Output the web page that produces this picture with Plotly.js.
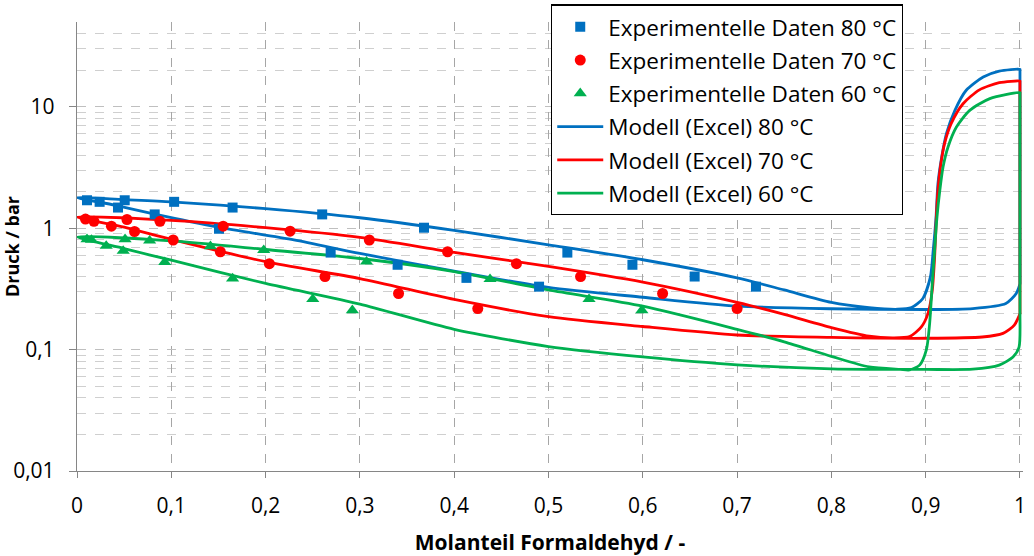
<!DOCTYPE html>
<html>
<head>
<meta charset="utf-8">
<script src="https://cdn.plot.ly/plotly-3.0.1.min.js"></script>
<style>html,body{margin:0;padding:0;background:#fff;}#chart{width:1034px;height:556px;}</style>
</head>
<body>
<div id="chart"></div>
<script>
// Experimental data (x = Molanteil Formaldehyd, p = Druck / bar)
const exp80_x = [0.0106,0.024,0.0435,0.0506,0.0824,0.103,0.1506,0.165,0.26,0.269,0.34,0.368,0.413,0.49,0.52,0.589,0.655,0.72];
const exp80_p = [1.70,1.65,1.48,1.70,1.30,1.65,0.99,1.48,1.30,0.63,0.50,1.01,0.39,0.33,0.63,0.50,0.40,0.33];

const exp70_x = [0.009,0.018,0.0365,0.053,0.061,0.088,0.102,0.152,0.155,0.204,0.226,0.263,0.310,0.341,0.393,0.425,0.466,0.534,0.621,0.700];
const exp70_p = [1.19,1.14,1.04,1.18,0.94,1.14,0.80,0.64,1.04,0.51,0.945,0.40,0.80,0.29,0.64,0.218,0.51,0.40,0.29,0.218];

const exp60_x = [0.0106,0.0153,0.031,0.049,0.051,0.077,0.093,0.1415,0.165,0.198,0.250,0.292,0.307,0.438,0.543,0.599];
const exp60_p = [0.81,0.80,0.715,0.65,0.81,0.79,0.525,0.71,0.385,0.66,0.26,0.211,0.53,0.38,0.26,0.211];

// Model curves (closed loops: upper branch, steep rise, x=1 edge, lower branch back)
const mod80_x = [0,0.05,0.1,0.2,0.3,0.4,0.5,0.6,0.7,0.75,0.8,0.84,0.87,0.885,0.897,0.905,0.908,0.911,0.913,0.917,0.922,0.931,0.943,0.961,0.978,1.0,1.0,1.0,1.0,0.996,0.985,0.95,0.9,0.8,0.7,0.6,0.5,0.4,0.3,0.23,0.15,0.08,0.04,0];
const mod80_p = [1.79,1.72,1.65,1.45,1.22,0.96,0.73,0.55,0.39,0.31,0.245,0.222,0.215,0.222,0.264,0.397,0.659,1.24,2.33,3.86,6.02,9.36,13.7,17.6,19.7,20.4,20.2,0.36,0.35,0.29,0.24,0.218,0.214,0.217,0.228,0.27,0.325,0.444,0.62,0.80,1.02,1.32,1.55,1.79];

const mod70_x = [0,0.1,0.2,0.3,0.4,0.5,0.6,0.7,0.75,0.8,0.84,0.865,0.883,0.8954,0.9025,0.907,0.9095,0.9113,0.913,0.9156,0.92,0.927,0.9396,0.957,0.978,1.0,1.0,1.0,1.0,0.994,0.982,0.96,0.9,0.8,0.7,0.6,0.5,0.4,0.3,0.2,0.1,0.05,0];
const mod70_p = [1.24,1.16,1.01,0.84,0.632,0.485,0.36,0.245,0.195,0.152,0.129,0.125,0.128,0.154,0.199,0.309,0.58,1.24,2.05,3.19,4.98,7.27,10.6,13.8,15.8,16.3,16.1,0.205,0.199,0.159,0.136,0.127,0.124,0.126,0.132,0.155,0.187,0.259,0.385,0.53,0.81,1.02,1.24];

const mod60_x = [0,0.1,0.2,0.3,0.4,0.5,0.6,0.7,0.75,0.8,0.84,0.873,0.883,0.8936,0.9007,0.9042,0.907,0.9095,0.912,0.915,0.9184,0.9237,0.9326,0.9467,0.968,1.0,1.0,1.0,1.0,0.999,0.9926,0.978,0.95,0.9,0.8,0.7,0.6,0.5,0.4,0.3,0.2,0.1,0.05,0];
const mod60_p = [0.85,0.786,0.668,0.563,0.44,0.31,0.228,0.147,0.116,0.088,0.072,0.0687,0.068,0.0745,0.0993,0.164,0.351,0.659,1.24,2.05,3.19,4.67,6.82,9.36,11.7,13.1,12.9,0.19,0.186,0.105,0.087,0.0745,0.069,0.0687,0.0695,0.075,0.087,0.106,0.147,0.237,0.351,0.545,0.68,0.85];

const xTicks = [0,0.1,0.2,0.3,0.4,0.5,0.6,0.7,0.8,0.9,1];
const xTickText = ['0','0,1','0,2','0,3','0,4','0,5','0,6','0,7','0,8','0,9','1'];
const yTicks = [0.01,0.1,1,10];
const yTickText = ['0,01','0,1','1','10'];

const BLUE = '#0070C0', RED = '#FF0000', GREEN = '#00B050';
const FONT = '"Open Sans", "Noto Sans", sans-serif';

function lineTrace(x, y, name, color, rank) {
  return {x: x, y: y, name: name, type: 'scatter', mode: 'lines',
    line: {color: color, width: 2.8, shape: 'spline', smoothing: 0.7},
    legendrank: rank, legendgroup: 'g' + rank};
}
function markerTrace(x, y, name, color, symbol, size, rank) {
  return {x: x, y: y, name: name, type: 'scatter', mode: 'markers',
    marker: {color: color, symbol: symbol, size: size},
    legendrank: rank, legendgroup: 'g' + rank};
}

const data = [
  lineTrace(mod80_x, mod80_p, 'Modell (Excel) 80 °C', BLUE, 4),
  lineTrace(mod70_x, mod70_p, 'Modell (Excel) 70 °C', RED, 5),
  lineTrace(mod60_x, mod60_p, 'Modell (Excel) 60 °C', GREEN, 6),
  markerTrace(exp80_x, exp80_p, 'Experimentelle Daten 80 °C', BLUE, 'square', 10, 1),
  markerTrace(exp70_x, exp70_p, 'Experimentelle Daten 70 °C', RED, 'circle', 11, 2),
  markerTrace(exp60_x, exp60_p, 'Experimentelle Daten 60 °C', GREEN, 'triangle-up', 11.5, 3)
];

const layout = {
  width: 1034, height: 556,
  margin: {l: 77, r: 11, t: 22, b: 85, autoexpand: false},
  paper_bgcolor: '#fff', plot_bgcolor: '#fff',
  font: {family: FONT, size: 21, color: '#000'},
  separators: ',.',
  showlegend: true,
  legend: {
    x: 0.5011, y: 1.039, xanchor: 'left', yanchor: 'top',
    bgcolor: '#fff', bordercolor: '#000', borderwidth: 1.2,
    font: {family: FONT, size: 22.5, color: '#000'},
    traceorder: 'grouped', tracegroupgap: 1, itemwidth: 46
  },
  xaxis: {
    range: [0, 1.0032], tickvals: xTicks, ticktext: xTickText,
    showline: true, linecolor: '#868686', linewidth: 1.2,
    ticks: 'outside', ticklen: 6, tickcolor: '#868686', ticklabelstandoff: 10,
    showgrid: true, gridcolor: '#a6a6a6', griddash: 'dash', gridwidth: 1,
    zeroline: false,
    tickfont: {family: FONT, size: 21},
    title: {text: 'Molanteil Formaldehyd / -', font: {family: FONT, size: 21, weight: 'bold'}, standoff: 18}
  },
  yaxis: {
    type: 'log', range: [-2, Math.log10(50)],
    tickvals: yTicks, ticktext: yTickText,
    showline: true, linecolor: '#868686', linewidth: 1.2,
    ticks: 'outside', ticklen: 7, tickcolor: '#868686', ticklabelstandoff: 10,
    showgrid: true, gridcolor: '#bfbfbf', griddash: 'dash', gridwidth: 1,
    zeroline: false,
    tickfont: {family: FONT, size: 21},
    minor: {dtick: 'D1', showgrid: true, gridcolor: '#cfcfcf', griddash: 'dash', gridwidth: 1, ticks: ''},
    title: {text: 'Druck / bar', font: {family: FONT, size: 18, weight: 'bold'}, standoff: 4}
  }
};

Plotly.newPlot('chart', data, layout, {displayModeBar: false, staticPlot: true});
</script>
</body>
</html>
